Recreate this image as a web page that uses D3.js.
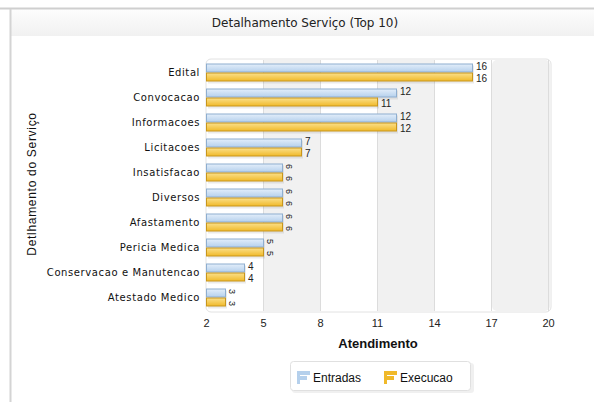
<!DOCTYPE html>
<html><head><meta charset="utf-8">
<script src="https://cdn.jsdelivr.net/npm/d3@7"></script>
<style>
body{margin:0;background:#fff;}
svg{display:block;font-family:"DejaVu Sans",Verdana,sans-serif;}
</style></head>
<body><svg id="c" width="594" height="402"></svg>
<script>
const categories = ["Edital","Convocacao","Informacoes","Licitacoes","Insatisfacao","Diversos","Afastamento","Pericia Medica","Conservacao e Manutencao","Atestado Medico"];
const entradas = [16,12,12,7,6,6,6,5,4,3];
const execucao = [16,11,12,7,6,6,6,5,4,3];
const xTicks = [2,5,8,11,14,17,20];
const seriesNames = ["Entradas","Execucao"];

const svg = d3.select("#c");
const defs = svg.append("defs");
const gB = defs.append("linearGradient").attr("id","gb").attr("x1",0).attr("y1",0).attr("x2",0).attr("y2",1);
gB.append("stop").attr("offset","0%").attr("stop-color","#e3eefa");
gB.append("stop").attr("offset","100%").attr("stop-color","#b5d0ec");
const gO = defs.append("linearGradient").attr("id","go").attr("x1",0).attr("y1",0).attr("x2",0).attr("y2",1);
gO.append("stop").attr("offset","0%").attr("stop-color","#fbe08a");
gO.append("stop").attr("offset","100%").attr("stop-color","#f0b92a");
const gT = defs.append("linearGradient").attr("id","gt").attr("x1",0).attr("y1",0).attr("x2",0).attr("y2",1);
gT.append("stop").attr("offset","0%").attr("stop-color","#fdfdfd");
gT.append("stop").attr("offset","100%").attr("stop-color","#f1f1f1");

// frame
svg.append("rect").attr("x",11).attr("y",9).attr("width",583).attr("height",27).attr("fill","url(#gt)");
svg.append("line").attr("x1",0).attr("x2",594).attr("y1",8.5).attr("y2",8.5).attr("stroke","#cfcfcf").attr("stroke-width",2);
svg.append("line").attr("x1",10.5).attr("x2",10.5).attr("y1",9).attr("y2",402).attr("stroke","#d4d4d4").attr("stroke-width",2);
svg.append("text").attr("x",305).attr("y",27).attr("text-anchor","middle").attr("font-size",12).attr("fill","#222")
  .attr("font-family","Verdana,'DejaVu Sans',sans-serif").text("Detalhamento Serviço (Top 10)");

const x = d3.scaleLinear().domain([2,20]).range([206,548]);
const y = d3.scaleBand().domain(categories).range([60,310]).paddingInner(0.28).paddingOuter(0.14);
const sub = d3.scaleBand().domain(seriesNames).range([0,y.bandwidth()]).padding(0);

// plot bg bands
const plot = svg.append("g");
plot.append("rect").attr("x",x(2)).attr("y",59).attr("width",x(20)-x(2)+3).attr("height",253).attr("rx",5)
  .attr("fill","#fff").attr("stroke","#e2e2e2");
for (let i=0;i<xTicks.length-1;i++){
  if (i%2===1){
    plot.append("rect").attr("x",x(xTicks[i])+1).attr("y",60).attr("width",x(xTicks[i+1])-x(xTicks[i])-(i===5?-1:1))
      .attr("height",251).attr("rx",i===5?5:0).attr("fill","#f1f1f1");
  }
}
xTicks.slice(1).forEach(t=>{
  plot.append("line").attr("x1",x(t)+0.5).attr("x2",x(t)+0.5).attr("y1",60).attr("y2",311).attr("stroke","#dcdcdc");
});

// bars
const rows = svg.append("g").selectAll("g").data(categories).join("g").attr("transform",d=>`translate(0,${y(d)})`);
const bh = sub.bandwidth();
rows.each(function(cat,i){
  const g = d3.select(this);
  const vals = [entradas[i], execucao[i]];
  vals.forEach((v,k)=>{
    const yy = sub(seriesNames[k]);
    g.append("rect").attr("x",x(2)+2).attr("y",yy+2).attr("width",x(v)-x(2)).attr("height",bh).attr("fill","#000").attr("opacity",0.08);
    g.append("rect").attr("x",x(2)+0.5).attr("y",yy+0.5).attr("width",x(v)-x(2)).attr("height",bh-1)
      .attr("fill",k===0?"url(#gb)":"url(#go)").attr("stroke",k===0?"#8eaed0":"#c8961c");
    const rot = [3,5,6].includes(v);
    const lx = x(v)+(rot?3:4), ly = yy+bh/2+(k===0?-1.5:1.5);
    const t = g.append("text").attr("font-size",10).attr("fill","#222").attr("font-family","Arial,'Liberation Sans',sans-serif").text(v);
    if (rot){
      t.attr("transform",`translate(${lx},${ly}) rotate(90)`).attr("text-anchor","middle").attr("dy","-0.15em").attr("font-size",9);
    } else {
      t.attr("x",lx).attr("y",ly).attr("dy","0.35em");
    }
  });
});

// y axis labels
svg.append("g").selectAll("text").data(categories).join("text")
  .attr("x",200).attr("y",d=>y(d)+y.bandwidth()/2).attr("dy","0.35em").attr("text-anchor","end")
  .attr("font-size",10).attr("letter-spacing","0.6").attr("fill","#111").text(d=>d);

// x axis
const xa = svg.append("g").attr("transform","translate(0,312)")
  .call(d3.axisBottom(x).tickValues(xTicks).tickSize(0).tickPadding(7).tickFormat(d3.format("d")));
xa.select(".domain").remove();
xa.selectAll("text").attr("font-size",11).attr("fill","#222").attr("font-family","Arial,'Liberation Sans',sans-serif");

svg.append("text").attr("x",378).attr("y",348).attr("text-anchor","middle").attr("font-size",13).attr("font-weight","bold")
  .attr("font-family","Arial,'Liberation Sans',sans-serif").attr("fill","#111").text("Atendimento");
svg.append("text").attr("transform","translate(36,184) rotate(-90)").attr("text-anchor","middle").attr("font-size",12)
  .attr("letter-spacing","0.7").attr("font-family","Arial,'Liberation Sans',sans-serif").attr("fill","#111").text("Detlhamento do Serviço");

// legend
const lg = svg.append("g");
lg.append("rect").attr("x",292).attr("y",363).attr("width",182).attr("height",30).attr("rx",3).attr("fill","#000").attr("opacity",0.06);
lg.append("rect").attr("x",290.5).attr("y",361.5).attr("width",180).attr("height",29).attr("rx",3).attr("fill","#fff").attr("stroke","#e0e0e0");
const items = [{n:seriesNames[0],x:297,c:"#b5d0ec",s:"#8eaed0"},{n:seriesNames[1],x:384,c:"#f0b92a",s:"#c8961c"}];
items.forEach(it=>{
  lg.append("rect").attr("x",it.x).attr("y",371).attr("width",3).attr("height",13).attr("fill",it.c);
  lg.append("rect").attr("x",it.x+3).attr("y",371).attr("width",10).attr("height",4).attr("fill",it.c);
  lg.append("rect").attr("x",it.x+3).attr("y",376).attr("width",7).attr("height",4).attr("fill",it.c);
  lg.append("text").attr("x",it.x+16).attr("y",378).attr("dy","0.35em").attr("font-size",12)
    .attr("font-family","Arial,'Liberation Sans',sans-serif").attr("fill","#111").text(it.n);
});
</script></body></html>
